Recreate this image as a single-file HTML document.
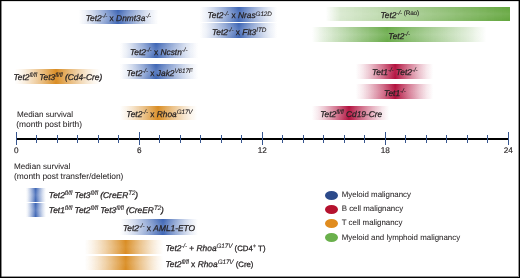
<!DOCTYPE html>
<html><head><meta charset="utf-8"><style>
html,body{margin:0;padding:0;background:#fff}
#c{position:relative;width:520px;height:278px;overflow:hidden;will-change:transform;font-family:"Liberation Sans",sans-serif;color:#231f20;text-rendering:geometricPrecision}
.bar{position:absolute}
#bd{position:absolute;left:0;top:0;width:518px;height:276px;border:1px solid #000;box-shadow:inset 1px 0 0 rgba(0,0,0,.45),inset -1px -1px 0 rgba(0,0,0,.4),inset 0 1px 0 rgba(0,0,0,.12)}
.t{position:absolute;white-space:nowrap;line-height:1;-webkit-text-stroke:0.25px #231f20}
.t sup{font-size:0.76em;letter-spacing:-0.15px;vertical-align:0;position:relative;top:-0.46em;line-height:0;-webkit-text-stroke:0.1px #231f20}
i{font-style:italic}
.axis{position:absolute;left:16.3px;width:492px;top:137.5px;height:2.4px;background:#000}
.tk{position:absolute;top:134.8px;height:7.9px;width:1.3px;background:#37568f}
.tk.maj{top:132.3px;height:12.4px;width:1.5px}
.al{position:absolute;top:146px;width:30px;text-align:center;font-size:8.2px;line-height:10px;-webkit-text-stroke:0.15px #231f20}
.t.n{-webkit-text-stroke:0.05px #231f20}
.dot{position:absolute;left:324.7px;width:13.6px;height:9.3px;border-radius:50%}
</style></head><body><div id="c">
<div class="bar" style="left:79px;top:9.7px;width:79px;height:14.7px;background:linear-gradient(to bottom, rgba(255,255,255,0) 0%, rgba(255,255,255,0.15) 50%, rgba(255,255,255,0) 100%),linear-gradient(to right, rgba(60,100,180,0.000) 0.0%, rgba(60,100,180,0.097) 8.2%, rgba(60,100,180,0.240) 16.5%, rgba(60,100,180,0.406) 24.7%, rgba(60,100,180,0.590) 32.9%, rgba(60,100,180,0.789) 41.1%, rgba(60,100,180,1.000) 49.4%, rgba(60,100,180,0.789) 57.8%, rgba(60,100,180,0.590) 66.2%, rgba(60,100,180,0.406) 74.7%, rgba(60,100,180,0.240) 83.1%, rgba(60,100,180,0.097) 91.6%, rgba(60,100,180,0.000) 100.0%)"></div>
<div class="bar" style="left:200px;top:7px;width:77px;height:14.5px;background:linear-gradient(to bottom, rgba(255,255,255,0) 0%, rgba(255,255,255,0.15) 50%, rgba(255,255,255,0) 100%),linear-gradient(to right, rgba(60,100,180,0.000) 0.0%, rgba(60,100,180,0.097) 8.4%, rgba(60,100,180,0.240) 16.9%, rgba(60,100,180,0.406) 25.3%, rgba(60,100,180,0.590) 33.8%, rgba(60,100,180,0.789) 42.2%, rgba(60,100,180,1.000) 50.6%, rgba(60,100,180,0.789) 58.9%, rgba(60,100,180,0.590) 67.1%, rgba(60,100,180,0.406) 75.3%, rgba(60,100,180,0.240) 83.5%, rgba(60,100,180,0.097) 91.8%, rgba(60,100,180,0.000) 100.0%)"></div>
<div class="bar" style="left:200px;top:23.2px;width:77px;height:14.7px;background:linear-gradient(to bottom, rgba(255,255,255,0) 0%, rgba(255,255,255,0.15) 50%, rgba(255,255,255,0) 100%),linear-gradient(to right, rgba(60,100,180,0.000) 0.0%, rgba(60,100,180,0.097) 8.4%, rgba(60,100,180,0.240) 16.9%, rgba(60,100,180,0.406) 25.3%, rgba(60,100,180,0.590) 33.8%, rgba(60,100,180,0.789) 42.2%, rgba(60,100,180,1.000) 50.6%, rgba(60,100,180,0.789) 58.9%, rgba(60,100,180,0.590) 67.1%, rgba(60,100,180,0.406) 75.3%, rgba(60,100,180,0.240) 83.5%, rgba(60,100,180,0.097) 91.8%, rgba(60,100,180,0.000) 100.0%)"></div>
<div class="bar" style="left:326px;top:7px;width:183.5px;height:14.3px;background:linear-gradient(to bottom, rgba(255,255,255,0) 0%, rgba(255,255,255,0.1) 50%, rgba(255,255,255,0) 100%),linear-gradient(to right, rgba(98,165,60,0) 0%, rgba(98,165,60,0.25) 8%, rgba(98,165,60,1) 100%)"></div>
<div class="bar" style="left:312px;top:27.4px;width:174px;height:14.399999999999999px;background:linear-gradient(to bottom, rgba(255,255,255,0) 0%, rgba(255,255,255,0.12) 50%, rgba(255,255,255,0) 100%),linear-gradient(to right, rgba(104,170,72,0.000) 0.0%, rgba(104,170,72,0.199) 7.2%, rgba(104,170,72,0.372) 14.4%, rgba(104,170,72,0.536) 21.6%, rgba(104,170,72,0.694) 28.7%, rgba(104,170,72,0.849) 35.9%, rgba(104,170,72,1.000) 43.1%, rgba(104,170,72,0.849) 52.6%, rgba(104,170,72,0.694) 62.1%, rgba(104,170,72,0.536) 71.6%, rgba(104,170,72,0.372) 81.0%, rgba(104,170,72,0.199) 90.5%, rgba(104,170,72,0.000) 100.0%)"></div>
<div class="bar" style="left:120px;top:43px;width:78px;height:15px;background:linear-gradient(to bottom, rgba(255,255,255,0) 0%, rgba(255,255,255,0.15) 50%, rgba(255,255,255,0) 100%),linear-gradient(to right, rgba(60,100,180,0.000) 0.0%, rgba(60,100,180,0.097) 7.7%, rgba(60,100,180,0.240) 15.4%, rgba(60,100,180,0.406) 23.1%, rgba(60,100,180,0.590) 30.8%, rgba(60,100,180,0.789) 38.5%, rgba(60,100,180,1.000) 46.2%, rgba(60,100,180,0.789) 55.1%, rgba(60,100,180,0.590) 64.1%, rgba(60,100,180,0.406) 73.1%, rgba(60,100,180,0.240) 82.1%, rgba(60,100,180,0.097) 91.0%, rgba(60,100,180,0.000) 100.0%)"></div>
<div class="bar" style="left:120px;top:63.8px;width:78px;height:14.900000000000006px;background:linear-gradient(to bottom, rgba(255,255,255,0) 0%, rgba(255,255,255,0.15) 50%, rgba(255,255,255,0) 100%),linear-gradient(to right, rgba(60,100,180,0.000) 0.0%, rgba(60,100,180,0.097) 7.7%, rgba(60,100,180,0.240) 15.4%, rgba(60,100,180,0.406) 23.1%, rgba(60,100,180,0.590) 30.8%, rgba(60,100,180,0.789) 38.5%, rgba(60,100,180,1.000) 46.2%, rgba(60,100,180,0.789) 55.1%, rgba(60,100,180,0.590) 64.1%, rgba(60,100,180,0.406) 73.1%, rgba(60,100,180,0.240) 82.1%, rgba(60,100,180,0.097) 91.0%, rgba(60,100,180,0.000) 100.0%)"></div>
<div class="bar" style="left:15px;top:68.5px;width:85px;height:15.299999999999997px;background:linear-gradient(to bottom, rgba(255,255,255,0) 0%, rgba(255,255,255,0.06) 50%, rgba(255,255,255,0) 100%),linear-gradient(to right, rgba(217,140,34,0.000) 0.0%, rgba(217,140,34,0.097) 8.0%, rgba(217,140,34,0.240) 16.1%, rgba(217,140,34,0.406) 24.1%, rgba(217,140,34,0.590) 32.2%, rgba(217,140,34,0.789) 40.2%, rgba(217,140,34,1.000) 48.2%, rgba(217,140,34,0.789) 56.9%, rgba(217,140,34,0.590) 65.5%, rgba(217,140,34,0.406) 74.1%, rgba(217,140,34,0.240) 82.7%, rgba(217,140,34,0.097) 91.4%, rgba(217,140,34,0.000) 100.0%)"></div>
<div class="bar" style="left:355.5px;top:64.1px;width:77.5px;height:14.600000000000009px;background:linear-gradient(to bottom, rgba(255,255,255,0) 0%, rgba(255,255,255,0.07) 50%, rgba(255,255,255,0) 100%),linear-gradient(to right, rgba(178,14,60,0.000) 0.0%, rgba(178,14,60,0.097) 8.5%, rgba(178,14,60,0.240) 17.0%, rgba(178,14,60,0.406) 25.5%, rgba(178,14,60,0.590) 34.0%, rgba(178,14,60,0.789) 42.5%, rgba(178,14,60,1.000) 51.0%, rgba(178,14,60,0.789) 59.1%, rgba(178,14,60,0.590) 67.3%, rgba(178,14,60,0.406) 75.5%, rgba(178,14,60,0.240) 83.7%, rgba(178,14,60,0.097) 91.8%, rgba(178,14,60,0.000) 100.0%)"></div>
<div class="bar" style="left:355.5px;top:84.2px;width:77.5px;height:14.799999999999997px;background:linear-gradient(to bottom, rgba(255,255,255,0) 0%, rgba(255,255,255,0.07) 50%, rgba(255,255,255,0) 100%),linear-gradient(to right, rgba(178,14,60,0.000) 0.0%, rgba(178,14,60,0.097) 8.5%, rgba(178,14,60,0.240) 17.0%, rgba(178,14,60,0.406) 25.5%, rgba(178,14,60,0.590) 34.0%, rgba(178,14,60,0.789) 42.5%, rgba(178,14,60,1.000) 51.0%, rgba(178,14,60,0.789) 59.1%, rgba(178,14,60,0.590) 67.3%, rgba(178,14,60,0.406) 75.5%, rgba(178,14,60,0.240) 83.7%, rgba(178,14,60,0.097) 91.8%, rgba(178,14,60,0.000) 100.0%)"></div>
<div class="bar" style="left:312px;top:105.8px;width:77px;height:14.600000000000009px;background:linear-gradient(to bottom, rgba(255,255,255,0) 0%, rgba(255,255,255,0.07) 50%, rgba(255,255,255,0) 100%),linear-gradient(to right, rgba(178,14,60,0.000) 0.0%, rgba(178,14,60,0.097) 8.0%, rgba(178,14,60,0.240) 16.0%, rgba(178,14,60,0.406) 24.0%, rgba(178,14,60,0.590) 32.0%, rgba(178,14,60,0.789) 40.0%, rgba(178,14,60,1.000) 48.1%, rgba(178,14,60,0.789) 56.7%, rgba(178,14,60,0.590) 65.4%, rgba(178,14,60,0.406) 74.0%, rgba(178,14,60,0.240) 82.7%, rgba(178,14,60,0.097) 91.3%, rgba(178,14,60,0.000) 100.0%)"></div>
<div class="bar" style="left:120px;top:105.6px;width:77px;height:14.600000000000009px;background:linear-gradient(to bottom, rgba(255,255,255,0) 0%, rgba(255,255,255,0.06) 50%, rgba(255,255,255,0) 100%),linear-gradient(to right, rgba(217,140,34,0.000) 0.0%, rgba(217,140,34,0.097) 8.2%, rgba(217,140,34,0.240) 16.5%, rgba(217,140,34,0.406) 24.7%, rgba(217,140,34,0.590) 32.9%, rgba(217,140,34,0.789) 41.1%, rgba(217,140,34,1.000) 49.4%, rgba(217,140,34,0.789) 57.8%, rgba(217,140,34,0.590) 66.2%, rgba(217,140,34,0.406) 74.7%, rgba(217,140,34,0.240) 83.1%, rgba(217,140,34,0.097) 91.6%, rgba(217,140,34,0.000) 100.0%)"></div>
<div class="bar" style="left:26.3px;top:187.7px;width:19.7px;height:14.600000000000023px;background:linear-gradient(to bottom, rgba(255,255,255,0) 0%, rgba(255,255,255,0.15) 50%, rgba(255,255,255,0) 100%),linear-gradient(to right, rgba(60,100,180,0.000) 0.0%, rgba(60,100,180,0.097) 8.0%, rgba(60,100,180,0.240) 16.1%, rgba(60,100,180,0.406) 24.1%, rgba(60,100,180,0.590) 32.1%, rgba(60,100,180,0.789) 40.2%, rgba(60,100,180,1.000) 48.2%, rgba(60,100,180,0.789) 56.9%, rgba(60,100,180,0.590) 65.5%, rgba(60,100,180,0.406) 74.1%, rgba(60,100,180,0.240) 82.7%, rgba(60,100,180,0.097) 91.4%, rgba(60,100,180,0.000) 100.0%)"></div>
<div class="bar" style="left:26.3px;top:203px;width:19.7px;height:14px;background:linear-gradient(to bottom, rgba(255,255,255,0) 0%, rgba(255,255,255,0.15) 50%, rgba(255,255,255,0) 100%),linear-gradient(to right, rgba(60,100,180,0.000) 0.0%, rgba(60,100,180,0.097) 8.0%, rgba(60,100,180,0.240) 16.1%, rgba(60,100,180,0.406) 24.1%, rgba(60,100,180,0.590) 32.1%, rgba(60,100,180,0.789) 40.2%, rgba(60,100,180,1.000) 48.2%, rgba(60,100,180,0.789) 56.9%, rgba(60,100,180,0.590) 65.5%, rgba(60,100,180,0.406) 74.1%, rgba(60,100,180,0.240) 82.7%, rgba(60,100,180,0.097) 91.4%, rgba(60,100,180,0.000) 100.0%)"></div>
<div class="bar" style="left:120px;top:219.4px;width:78px;height:15.199999999999989px;background:linear-gradient(to bottom, rgba(255,255,255,0) 0%, rgba(255,255,255,0.15) 50%, rgba(255,255,255,0) 100%),linear-gradient(to right, rgba(60,100,180,0.000) 0.0%, rgba(60,100,180,0.097) 9.2%, rgba(60,100,180,0.240) 18.4%, rgba(60,100,180,0.406) 27.6%, rgba(60,100,180,0.590) 36.8%, rgba(60,100,180,0.789) 45.9%, rgba(60,100,180,1.000) 55.1%, rgba(60,100,180,0.789) 62.6%, rgba(60,100,180,0.590) 70.1%, rgba(60,100,180,0.406) 77.6%, rgba(60,100,180,0.240) 85.0%, rgba(60,100,180,0.097) 92.5%, rgba(60,100,180,0.000) 100.0%)"></div>
<div class="bar" style="left:85px;top:239.5px;width:78px;height:14.400000000000006px;background:linear-gradient(to bottom, rgba(255,255,255,0) 0%, rgba(255,255,255,0.06) 50%, rgba(255,255,255,0) 100%),linear-gradient(to right, rgba(217,140,34,0.000) 0.0%, rgba(217,140,34,0.097) 8.7%, rgba(217,140,34,0.240) 17.4%, rgba(217,140,34,0.406) 26.2%, rgba(217,140,34,0.590) 34.9%, rgba(217,140,34,0.789) 43.6%, rgba(217,140,34,1.000) 52.3%, rgba(217,140,34,0.789) 60.3%, rgba(217,140,34,0.590) 68.2%, rgba(217,140,34,0.406) 76.2%, rgba(217,140,34,0.240) 84.1%, rgba(217,140,34,0.097) 92.1%, rgba(217,140,34,0.000) 100.0%)"></div>
<div class="bar" style="left:85px;top:255.5px;width:78px;height:14.699999999999989px;background:linear-gradient(to bottom, rgba(255,255,255,0) 0%, rgba(255,255,255,0.06) 50%, rgba(255,255,255,0) 100%),linear-gradient(to right, rgba(217,140,34,0.000) 0.0%, rgba(217,140,34,0.097) 8.7%, rgba(217,140,34,0.240) 17.4%, rgba(217,140,34,0.406) 26.2%, rgba(217,140,34,0.590) 34.9%, rgba(217,140,34,0.789) 43.6%, rgba(217,140,34,1.000) 52.3%, rgba(217,140,34,0.789) 60.3%, rgba(217,140,34,0.590) 68.2%, rgba(217,140,34,0.406) 76.2%, rgba(217,140,34,0.240) 84.1%, rgba(217,140,34,0.097) 92.1%, rgba(217,140,34,0.000) 100.0%)"></div>
<div class="t " style="left:85.7px;top:13.99px;font-size:8.4px"><i>Tet2<sup>-/-</sup></i> x <i>Dnmt3a<sup>-/-</sup></i></div>
<div class="t " style="left:207.5px;top:11.49px;font-size:8.4px"><i>Tet2<sup>-/-</sup></i> x <i>Nras<sup>G12D</sup></i></div>
<div class="t " style="left:211.9px;top:28.09px;font-size:8.4px"><i>Tet2<sup>-/-</sup></i> x <i>Flt3<sup>ITD</sup></i></div>
<div class="t " style="left:380.5px;top:11.39px;font-size:8.4px"><i>Tet2<sup>-/-</sup></i><sup> (Rao)</sup></div>
<div class="t " style="left:388.3px;top:31.89px;font-size:8.4px"><i>Tet2<sup>-/-</sup></i></div>
<div class="t " style="left:130.0px;top:47.59px;font-size:8.4px"><i>Tet2<sup>-/-</sup></i> x <i>Ncstn<sup>-/-</sup></i></div>
<div class="t " style="left:126.4px;top:68.79px;font-size:8.4px"><i>Tet2<sup>-/-</sup></i> x <i>Jak2<sup>V617F</sup></i></div>
<div class="t " style="left:13.5px;top:73.09px;font-size:8.4px"><i>Tet2<sup>fl/fl</sup> Tet3<sup>fl/fl</sup> (Cd4-Cre)</i></div>
<div class="t " style="left:372.0px;top:68.34px;font-size:8.4px"><i>Tet1<sup>-/-</sup> Tet2<sup>-/-</sup></i></div>
<div class="t " style="left:384.1px;top:88.79px;font-size:8.4px"><i>Tet1<sup>-/-</sup></i></div>
<div class="t " style="left:320.2px;top:110.19px;font-size:8.4px"><i>Tet2<sup>fl/fl</sup> Cd19-Cre</i></div>
<div class="t " style="left:126.3px;top:110.29px;font-size:8.4px"><i>Tet2<sup>-/-</sup></i> x <i>Rhoa<sup>G17V</sup></i></div>
<div class="t n" style="left:16.9px;top:110.94px;font-size:8.1px">Median survival</div>
<div class="t n" style="left:16.3px;top:120.19px;font-size:8.4px">(month post birth)</div>
<div class="axis"></div>
<div class="tk maj" style="left:15.55px"></div>
<div class="al" style="left:1.30px">0</div>
<div class="tk" style="left:36.20px"></div>
<div class="tk" style="left:56.70px"></div>
<div class="tk" style="left:77.20px"></div>
<div class="tk" style="left:97.70px"></div>
<div class="tk" style="left:118.20px"></div>
<div class="tk maj" style="left:138.55px"></div>
<div class="al" style="left:124.30px">6</div>
<div class="tk" style="left:159.20px"></div>
<div class="tk" style="left:179.70px"></div>
<div class="tk" style="left:200.20px"></div>
<div class="tk" style="left:220.70px"></div>
<div class="tk" style="left:241.20px"></div>
<div class="tk maj" style="left:261.55px"></div>
<div class="al" style="left:247.30px">12</div>
<div class="tk" style="left:282.20px"></div>
<div class="tk" style="left:302.70px"></div>
<div class="tk" style="left:323.20px"></div>
<div class="tk" style="left:343.70px"></div>
<div class="tk" style="left:364.20px"></div>
<div class="tk maj" style="left:384.55px"></div>
<div class="al" style="left:370.30px">18</div>
<div class="tk" style="left:405.20px"></div>
<div class="tk" style="left:425.70px"></div>
<div class="tk" style="left:446.20px"></div>
<div class="tk" style="left:466.70px"></div>
<div class="tk" style="left:487.20px"></div>
<div class="tk maj" style="left:507.55px"></div>
<div class="al" style="left:493.30px">24</div>
<div class="t n" style="left:14.1px;top:162.64px;font-size:8.1px">Median survival</div>
<div class="t n" style="left:14.0px;top:172.39px;font-size:8.4px">(month post transfer/deletion)</div>
<div class="t " style="left:48.8px;top:191.39px;font-size:8.4px"><i>Tet2<sup>fl/fl</sup> Tet3<sup>fl/fl</sup> (CreER<sup>T2</sup>)</i></div>
<div class="t " style="left:48.8px;top:205.99px;font-size:8.4px"><i>Tet1<sup>fl/fl</sup> Tet2<sup>fl/fl</sup> Tet3<sup>fl/fl</sup> (CreER<sup>T2</sup>)</i></div>
<div class="t " style="left:122.9px;top:223.59px;font-size:8.4px"><i>Tet2<sup>-/-</sup></i> x <i>AML1-ETO</i></div>
<div class="t " style="left:165.4px;top:243.69px;font-size:8.4px"><i>Tet2<sup>-/-</sup></i> + <i>Rhoa<sup>G17V</sup></i> <span style="font-size:7.8px">(CD4<sup>+</sup> T)</span></div>
<div class="t " style="left:165.4px;top:260.19px;font-size:8.4px"><i>Tet2<sup>fl/fl</sup></i> x <i>Rhoa<sup>G17V</sup></i> <span style="font-size:7.8px">(Cre)</span></div>
<div class="dot" style="top:190.70px;background:rgb(44, 74, 138)"></div>
<div class="t n" style="left:341.7px;top:191.41px;font-size:7.9px">Myeloid malignancy</div>
<div class="dot" style="top:204.70px;background:rgb(181, 18, 46)"></div>
<div class="t n" style="left:341.7px;top:205.41px;font-size:7.9px">B cell malignancy</div>
<div class="dot" style="top:218.70px;background:rgb(224, 140, 31)"></div>
<div class="t n" style="left:341.7px;top:219.41px;font-size:7.9px">T cell malignancy</div>
<div class="dot" style="top:233.00px;background:rgb(106, 176, 76)"></div>
<div class="t n" style="left:341.7px;top:233.71px;font-size:7.9px">Myeloid and lymphoid malignancy</div>
<div id="bd"></div></div></body></html>
